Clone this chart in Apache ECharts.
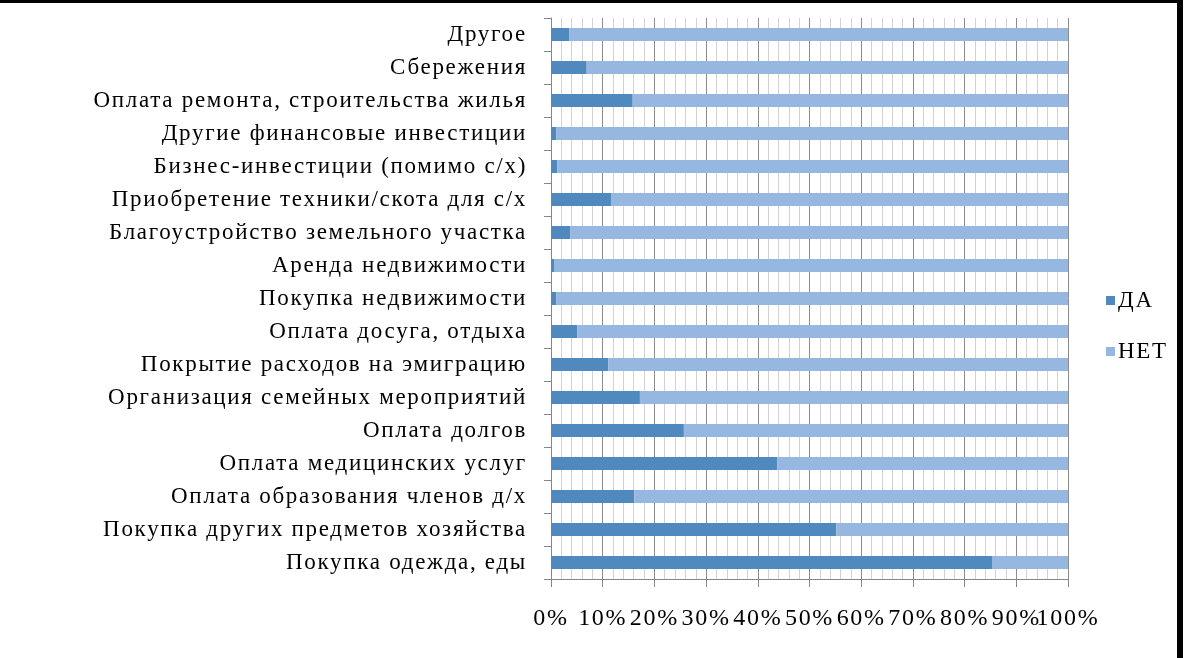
<!DOCTYPE html>
<html>
<head>
<meta charset="utf-8">
<script src="https://cdn.jsdelivr.net/npm/echarts@6/dist/echarts.min.js"></script>
<style>
html,body{margin:0;padding:0;background:#fff;}
#chart{width:1187px;height:658px;}
</style>
</head>
<body>
<div id="chart"></div>
<script>
// Categories listed top to bottom
const categories = [
  'Другое',
  'Сбережения',
  'Оплата ремонта, строительства жилья',
  'Другие финансовые инвестиции',
  'Бизнес-инвестиции (помимо с/х)',
  'Приобретение техники/скота для с/х',
  'Благоустройство земельного участка',
  'Аренда недвижимости',
  'Покупка недвижимости',
  'Оплата досуга, отдыха',
  'Покрытие расходов на эмиграцию',
  'Организация семейных мероприятий',
  'Оплата долгов',
  'Оплата медицинских услуг',
  'Оплата образования членов д/х',
  'Покупка других предметов хозяйства',
  'Покупка одежда, еды'
];
const daValues = [3.5, 6.9, 15.8, 1.0, 1.2, 11.6, 3.7, 0.7, 1.0, 5.1, 11.1, 17.2, 25.7, 43.8, 16.1, 55.2, 85.3];
const netValues = daValues.map(v => +(100 - v).toFixed(1));
const seriesNames = ['ДА', 'НЕТ'];

// Wider letter spacing when drawing text (matches the spaced-out reference typography)
(function () {
  const proto = CanvasRenderingContext2D.prototype;
  const origFill = proto.fillText;
  proto.fillText = function (t, x, y, m) {
    if ('letterSpacing' in this) this.letterSpacing = '1.7px';
    return m === undefined ? origFill.call(this, t, x, y) : origFill.call(this, t, x, y, m);
  };
})();

const chart = echarts.init(document.getElementById('chart'), null, { renderer: 'canvas' });
const fontFamily = '"Liberation Serif", "Times New Roman", serif';
chart.setOption({
  animation: false,
  textStyle: { fontFamily: fontFamily },
  grid: { left: 551, right: 1187 - 1068, top: 18, bottom: 658 - 579, containLabel: false },
  legend: {
    orient: 'vertical',
    left: 1101,
    top: 284,
    itemWidth: 9,
    itemHeight: 9,
    itemGap: 28,
    icon: 'rect',
    textStyle: { fontFamily: fontFamily, fontSize: 23, color: '#000', padding: [0, 0, 0, -2] },
    data: seriesNames
  },
  xAxis: {
    type: 'value',
    min: 0,
    max: 100,
    interval: 10,
    axisLine: { show: true, lineStyle: { color: '#868686', width: 1 } },
    axisTick: { show: true, length: 8, lineStyle: { color: '#868686' } },
    minorTick: { show: false, splitNumber: 5 },
    minorSplitLine: { show: true, lineStyle: { color: '#d2d2d2', width: 1 } },
    splitLine: { show: true, lineStyle: { color: '#8c8c8c', width: 1 } },
    axisLabel: {
      formatter: '{value}%',
      fontFamily: fontFamily,
      fontSize: 24,
      color: '#000',
      margin: 28,
      showMinLabel: true,
      showMaxLabel: true,
      hideOverlap: false
    }
  },
  yAxis: {
    type: 'category',
    inverse: true,
    data: categories,
    axisLine: { show: true, lineStyle: { color: '#868686', width: 1 } },
    axisTick: { show: true, length: 7, lineStyle: { color: '#868686' } },
    axisLabel: { fontFamily: fontFamily, fontSize: 23, color: '#000', margin: 24, interval: 0 }
  },
  series: [
    {
      name: seriesNames[0], type: 'bar', stack: 'total', barWidth: 13,
      itemStyle: { color: '#4F89BD' }, data: daValues
    },
    {
      name: seriesNames[1], type: 'bar', stack: 'total', barWidth: 13,
      itemStyle: { color: '#96B8E0' }, data: netValues
    }
  ],
  graphic: [
    { type: 'rect', shape: { x: 0, y: 0, width: 1183, height: 3 }, style: { fill: '#000' } },
    { type: 'rect', shape: { x: 1177, y: 0, width: 6, height: 658 }, style: { fill: '#000' } }
  ]
});
</script>
</body>
</html>
